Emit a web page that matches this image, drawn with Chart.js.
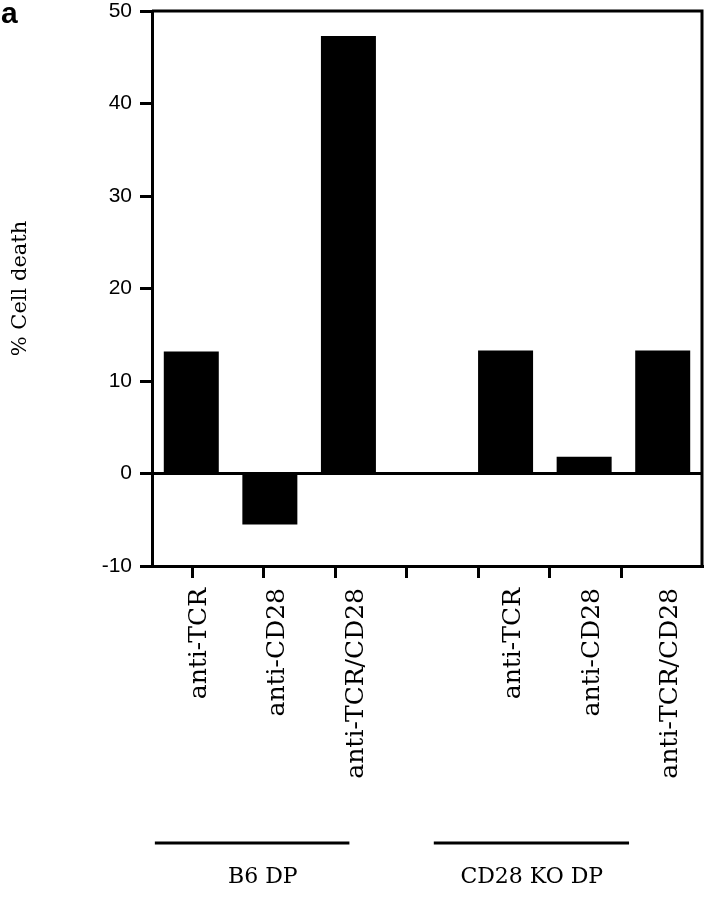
<!DOCTYPE html>
<html>
<head>
<meta charset="utf-8">
<script src="https://cdn.jsdelivr.net/npm/chart.js@4"></script>
<style>
  html, body { margin: 0; padding: 0; background: #fff; }
  #wrap { width: 707px; height: 899px; position: relative; }
</style>
</head>
<body>
<div id="wrap"><canvas id="chart"></canvas></div>
<script>
// slots along the x axis, the empty one in the middle separates the two groups
const categories = ['anti-TCR', 'anti-CD28', 'anti-TCR/CD28', '', 'anti-TCR', 'anti-CD28', 'anti-TCR/CD28'];
const cellDeath = [13.2, -5.5, 47.3, null, 13.3, 1.8, 13.3];
// the tick marks of the original sit on their own, evenly spaced grid
const tickMarks = [0, 1, 2, 3, 4, 5, 6];
const groups = [
    { label: 'B6 DP', from: -0.52, to: 2.2, at: 0.99 },
    { label: 'CD28 KO DP', from: 3.38, to: 6.11, at: 4.75 }
];

const serif = '"DejaVu Serif", "Liberation Serif", serif';
const sans = '"Liberation Sans", Arial, sans-serif';

const framePlugin = {
    id: 'frame',
    afterDraw(chart) {
        const { ctx, chartArea } = chart;
        const xs = chart.scales.xt;
        ctx.save();
        ctx.strokeStyle = '#000';
        ctx.lineWidth = 3;
        ctx.beginPath();
        ctx.moveTo(chartArea.left, chartArea.top);
        ctx.lineTo(chartArea.right, chartArea.top);
        ctx.lineTo(chartArea.right, chartArea.bottom);
        ctx.stroke();

        // group brackets under the rotated labels
        ctx.fillStyle = '#000';
        ctx.font = '22px ' + serif;
        ctx.textAlign = 'center';
        ctx.textBaseline = 'middle';
        groups.forEach(g => {
            const x1 = xs.getPixelForValue(g.from);
            const x2 = xs.getPixelForValue(g.to);
            ctx.lineWidth = 3;
            ctx.beginPath();
            ctx.moveTo(x1, chartArea.bottom + 277);
            ctx.lineTo(x2, chartArea.bottom + 277);
            ctx.stroke();
            ctx.fillText(g.label, xs.getPixelForValue(g.at), chartArea.bottom + 311);
        });

        // panel letter
        ctx.font = 'bold 30px ' + sans;
        ctx.textAlign = 'left';
        ctx.textBaseline = 'top';
        ctx.fillText('a', 1, 0);
        ctx.restore();
    }
};

new Chart(document.getElementById('chart'), {
    type: 'bar',
    data: {
        labels: categories,
        datasets: [{
            data: cellDeath,
            xAxisID: 'x',
            yAxisID: 'y',
            backgroundColor: '#000',
            borderWidth: 0,
            categoryPercentage: 1,
            barPercentage: 0.7
        }]
    },
    options: {
        responsive: true,
        maintainAspectRatio: false,
        animation: false,
        layout: { padding: { top: 11, right: 5, left: 0, bottom: 0 } },
        plugins: {
            legend: { display: false },
            tooltip: { enabled: false }
        },
        scales: {
            x: {
                position: 'bottom',
                weight: 1,
                offset: true,
                afterFit: scale => { scale.height = 321; },
                grid: { display: false, drawTicks: false },
                border: { display: false },
                ticks: {
                    autoSkip: false,
                    minRotation: 90,
                    maxRotation: 90,
                    padding: 10,
                    labelOffset: 8,
                    color: '#000',
                    font: { family: serif, size: 25 }
                }
            },
            xt: {
                type: 'linear',
                position: 'bottom',
                weight: 0,
                offset: false,
                min: -0.56,
                max: 7.13,
                afterBuildTicks: scale => {
                    scale.ticks = tickMarks.map(v => ({ value: v }));
                },
                afterFit: scale => { scale.height = 12; },
                grid: {
                    offset: false,
                    drawOnChartArea: false,
                    color: '#000',
                    tickLength: 12,
                    lineWidth: 3
                },
                border: { display: true, color: '#000', width: 3 },
                ticks: { display: false }
            },
            y: {
                min: -10,
                max: 50,
                afterFit: scale => {
                    scale.width = 152;
                    scale.paddingTop = 0;
                    scale.paddingBottom = 0;
                },
                grid: {
                    color: ctx => ctx.tick && ctx.tick.value === 0 ? '#000' : 'rgba(0,0,0,0)',
                    lineWidth: 3,
                    tickColor: '#000',
                    tickLength: 12,
                    tickWidth: 3
                },
                border: { display: true, color: '#000', width: 3 },
                ticks: {
                    stepSize: 10,
                    padding: 8,
                    color: '#000',
                    font: { family: sans, size: 21 }
                },
                title: {
                    display: true,
                    text: '% Cell death',
                    color: '#000',
                    font: { family: serif, size: 21 },
                    padding: { top: 8, bottom: 0 }
                }
            }
        }
    },
    plugins: [framePlugin]
});
</script>
</body>
</html>
